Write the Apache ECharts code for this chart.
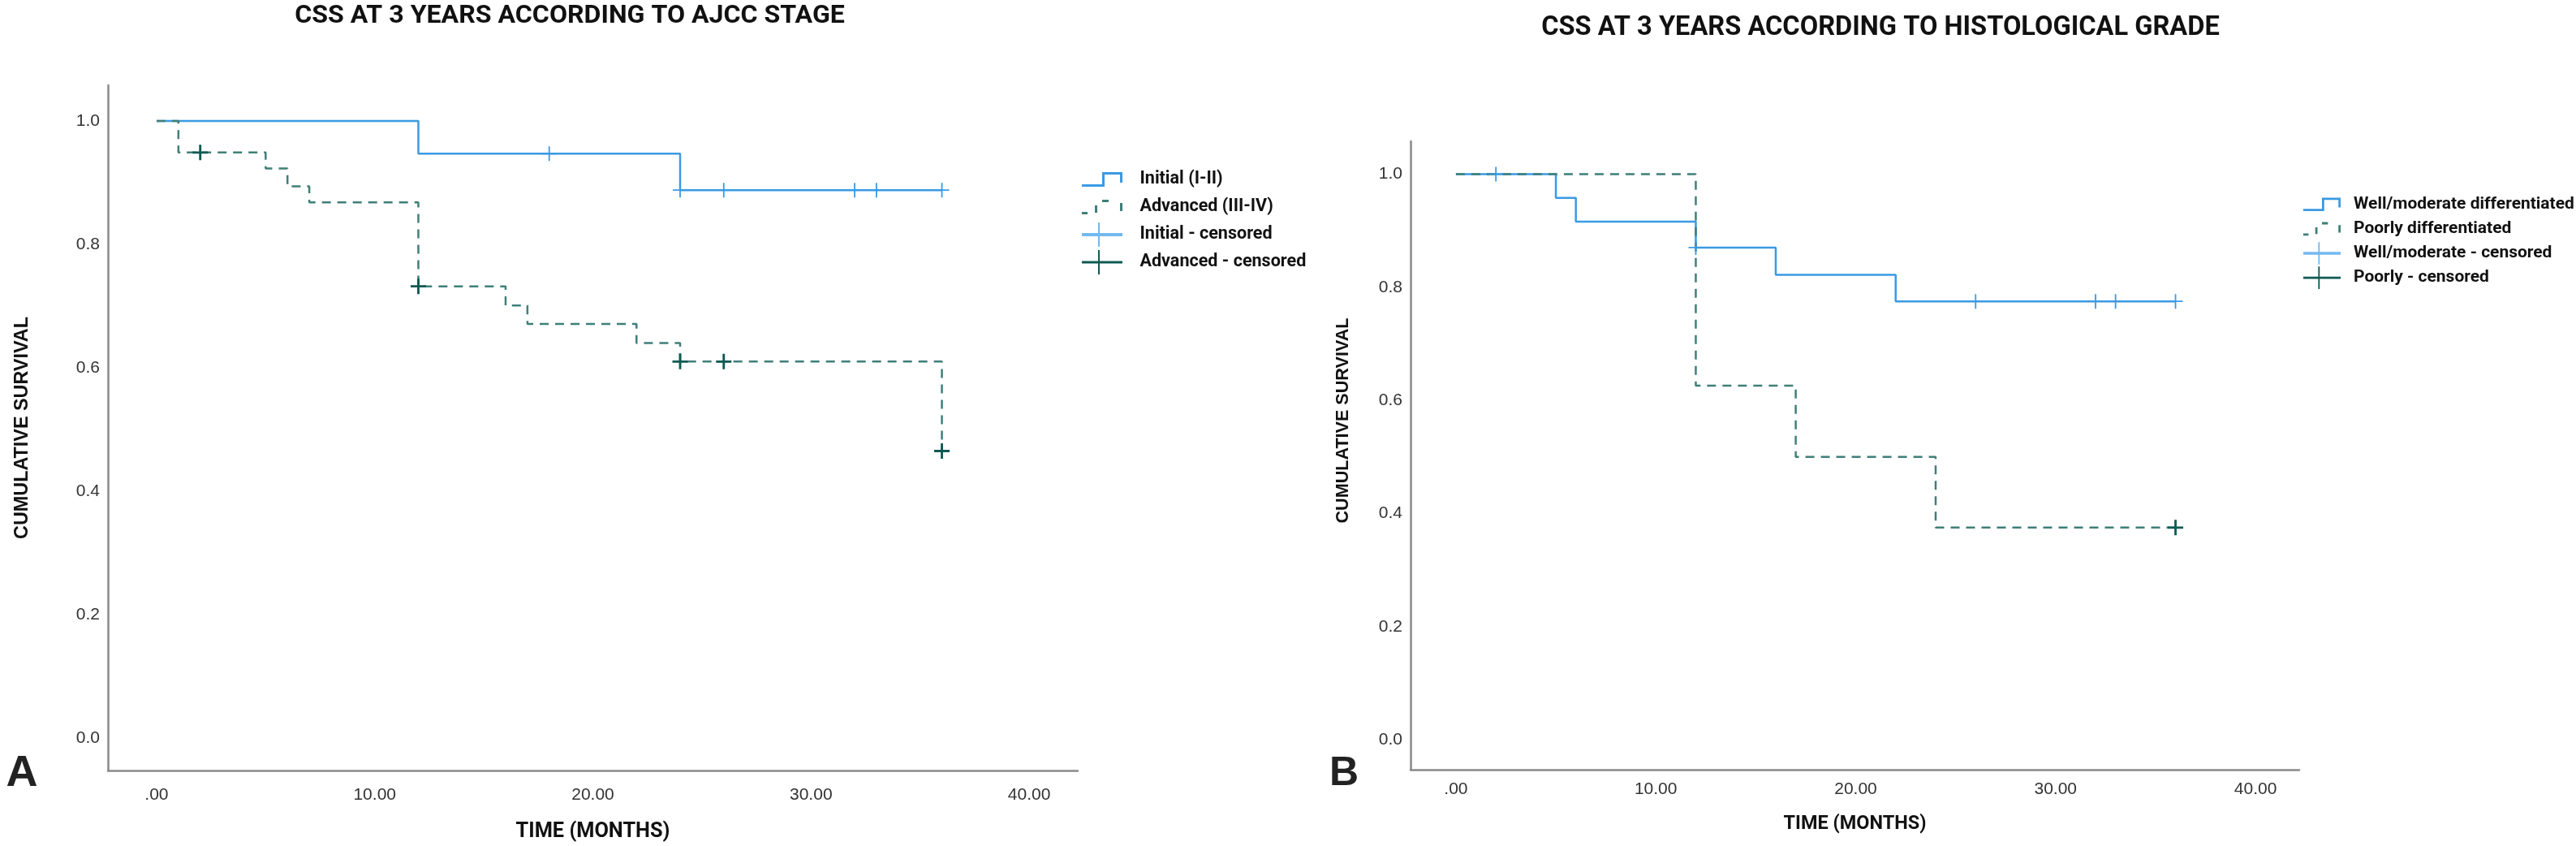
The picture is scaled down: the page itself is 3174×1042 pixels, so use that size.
<!DOCTYPE html>
<html>
<head>
<meta charset="utf-8">
<script src="https://cdn.jsdelivr.net/npm/echarts@6/dist/echarts.min.js"></script>
<style>
html,body{margin:0;padding:0;background:#fff;}
#chart{width:3174px;height:1042px;}
</style>
</head>
<body>
<div id="chart"></div>
<script>
// ---------- data ----------
const xTicks = [0, 10, 20, 30, 40];
const yTicks = [0, 0.2, 0.4, 0.6, 0.8, 1.0];

// Panel A: AJCC stage
const initialT = [0, 12, 24, 36];
const initialS = [1, 0.947, 0.888, 0.888];
const advancedT = [0, 1, 5, 6, 7, 12, 16, 17, 22, 24, 36];
const advancedS = [1, 0.949, 0.923, 0.894, 0.868, 0.732, 0.701, 0.671, 0.640, 0.610, 0.465];
const initialCensT = [18, 24, 26, 32, 33, 36];
const initialCensS = [0.947, 0.888, 0.888, 0.888, 0.888, 0.888];
const advancedCensT = [2, 12, 24, 26, 36];
const advancedCensS = [0.949, 0.732, 0.610, 0.610, 0.465];

// Panel B: histological grade
const wellT = [0, 5, 6, 12, 16, 22, 36];
const wellS = [1, 0.958, 0.916, 0.870, 0.822, 0.775, 0.775];
const poorT = [0, 12, 17, 24, 36];
const poorS = [1, 0.626, 0.5, 0.375, 0.375];
const wellCensT = [2, 12, 26, 32, 33, 36];
const wellCensS = [1, 0.870, 0.775, 0.775, 0.775, 0.775];
const poorCensT = [36];
const poorCensS = [0.375];

const titleA = 'CSS AT 3 YEARS ACCORDING TO AJCC STAGE';
const titleB = 'CSS AT 3 YEARS ACCORDING TO HISTOLOGICAL GRADE';
const legendA = ['Initial (I-II)', 'Advanced (III-IV)', 'Initial - censored', 'Advanced - censored'];
const legendB = ['Well/moderate differentiated', 'Poorly differentiated', 'Well/moderate - censored', 'Poorly - censored'];
const xName = 'TIME (MONTHS)';
const yName = 'CUMULATIVE SURVIVAL';

// ---------- styles ----------
const BLUE = '#3a9ae4';
const BLUE_LIGHT = '#74b9ef';
const TEAL = '#3f7f78';
const TEAL_DARK = '#0f5a53';
const COND = "Roboto,'DejaVu Sans Condensed',sans-serif";
const ARIAL = "'Liberation Sans',Arial,sans-serif";

// font size that makes a text span a given width
const ctx = document.createElement('canvas').getContext('2d');
function fit(text, family, weight, width) {
  ctx.font = weight + ' 100px ' + family;
  return 100 * width / ctx.measureText(text).width;
}

const pair = (t, s) => t.map((v, i) => [v, s[i]]);

const bb = 'M0,0h0.01v0.01h-0.01Z M49.99,29.99h0.01v0.01h-0.01Z ';
const iconStep = 'path://' + bb + 'M0,21H28V24H0Z M25,6H28V24H25Z M25,6H50V9H25Z M47,6H50V19H47Z';
const iconDash = 'path://' + bb + 'M0,21H7V24H0Z M16,13H19V22H16Z M25,6H33V9H25Z M47,10H50V20H47Z';
const iconCensLight = 'path://' + bb + 'M0,13H50V17H0Z M20,0H22V30H20Z';
const iconCensDark = 'path://' + bb + 'M0,13.5H50V16.5H0Z M20,0H22V30H20Z';

const plusThin = 'path://M0,9H20V11H0Z M9,0H11V20H9Z';
const plusBold = 'path://M0,8.5H20V11.5H0Z M8.5,0H11.5V20H8.5Z';

function xAxisFor(gi, min, max, gap, nameW, lblMargin) {
  return {
    gridIndex: gi, type: 'value', min: min, max: max,
    name: xName, nameLocation: 'middle', nameGap: gap,
    nameTextStyle: {fontFamily: COND, fontWeight: 'bold', fontSize: fit(xName, COND, 'bold', nameW), color: '#111'},
    axisLine: {show: true, onZero: false, lineStyle: {color: '#8a8a8a', width: 2.5}},
    axisTick: {show: false},
    splitLine: {show: false},
    axisLabel: {
      customValues: xTicks, fontFamily: ARIAL, fontSize: 21, color: '#333', margin: lblMargin,
      formatter: v => v === 0 ? '.00' : v.toFixed(2)
    }
  };
}
function yAxisFor(gi, gap, nameW, pad) {
  return {
    gridIndex: gi, type: 'value', min: -0.053, max: 1.058,
    name: yName, nameLocation: 'middle', nameRotate: 90, nameGap: gap,
    nameTextStyle: {fontFamily: ARIAL, fontWeight: 'bold', fontSize: fit(yName, ARIAL, 'bold', nameW), color: '#111', padding: pad},
    axisLine: {show: true, onZero: false, lineStyle: {color: '#8a8a8a', width: 2.5}},
    axisTick: {show: false},
    splitLine: {show: false},
    axisLabel: {
      customValues: yTicks, fontFamily: ARIAL, fontSize: 21, color: '#333', margin: 10,
      formatter: v => v.toFixed(1)
    }
  };
}
function stepLine(name, gi, t, s, color, dashed) {
  return {
    name: name, type: 'line', xAxisIndex: gi, yAxisIndex: gi,
    data: pair(t, s), step: 'end', symbol: 'none', silent: true,
    lineStyle: {color: color, width: 2.5, type: dashed ? [11, 8] : 'solid'},
    itemStyle: {color: color}
  };
}
function censored(name, gi, t, s, color, bold) {
  return {
    name: name, type: 'scatter', xAxisIndex: gi, yAxisIndex: gi,
    data: pair(t, s), symbol: bold ? plusBold : plusThin, symbolSize: bold ? [19, 19] : [18, 18],
    silent: true, itemStyle: {color: bold ? TEAL_DARK : BLUE, opacity: 1}, z: 5
  };
}
function legendFor(names, left, top, w, gap, textPad, fs) {
  const icons = [iconStep, iconDash, iconCensLight, iconCensDark];
  const cols = [BLUE, TEAL, BLUE_LIGHT, TEAL_DARK];
  return {
    orient: 'vertical', left: left, top: top, itemWidth: w, itemHeight: 30, itemGap: gap,
    selectedMode: false, padding: 0,
    textStyle: {fontFamily: COND, fontWeight: 'bold', fontSize: fs, color: '#111', padding: [0, 0, 0, textPad]},
    data: names.map((n, i) => ({name: n, icon: icons[i], itemStyle: {color: cols[i], borderWidth: 0}}))
  };
}

const chart = echarts.init(document.getElementById('chart'), null, {renderer: 'canvas'});
chart.setOption({
  backgroundColor: '#fff',
  animation: false,
  title: [
    {text: titleA, left: 702, top: 4, textAlign: 'center', padding: 0,
     textStyle: {fontFamily: COND, fontWeight: 'bold', fontSize: fit(titleA, COND, 'bold', 678), color: '#111'}},
    {text: titleB, left: 2317, top: 18, textAlign: 'center', padding: 0,
     textStyle: {fontFamily: COND, fontWeight: 'bold', fontSize: fit(titleB, COND, 'bold', 836), color: '#111'}},
    {text: 'A', left: 27, top: 926, textAlign: 'center', padding: 0,
     textStyle: {fontFamily: ARIAL, fontWeight: 'bold', fontSize: 54, color: '#222'}},
    {text: 'B', left: 1656, top: 928, textAlign: 'center', padding: 0,
     textStyle: {fontFamily: ARIAL, fontWeight: 'bold', fontSize: 50, color: '#222'}}
  ],
  legend: [
    legendFor(legendA, 1333, 206, 51, 4, 16, fit(legendA[3], COND, 'bold', 205)),
    legendFor(legendB, 2838, 238, 46, 2.5, 11, fit(legendB[0], COND, 'bold', 272))
  ],
  grid: [
    {left: 133, top: 105, width: 1195, height: 845},
    {left: 1738, top: 174, width: 1095, height: 774}
  ],
  xAxis: [xAxisFor(0, -2.23, 42.23, 63, 190, 20), xAxisFor(1, -2.27, 42.19, 56, 176, 14)],
  yAxis: [yAxisFor(0, 94, 274, [0, 0, 0, 0]), yAxisFor(1, 72, 253, [0, 0, 0, 86])],
  series: [
    stepLine(legendA[0], 0, initialT, initialS, BLUE, false),
    stepLine(legendA[1], 0, advancedT, advancedS, TEAL, true),
    censored(legendA[2], 0, initialCensT, initialCensS, BLUE, false),
    censored(legendA[3], 0, advancedCensT, advancedCensS, TEAL_DARK, true),
    stepLine(legendB[0], 1, wellT, wellS, BLUE, false),
    stepLine(legendB[1], 1, poorT, poorS, TEAL, true),
    censored(legendB[2], 1, wellCensT, wellCensS, BLUE, false),
    censored(legendB[3], 1, poorCensT, poorCensS, TEAL_DARK, true)
  ]
});
</script>
</body>
</html>
